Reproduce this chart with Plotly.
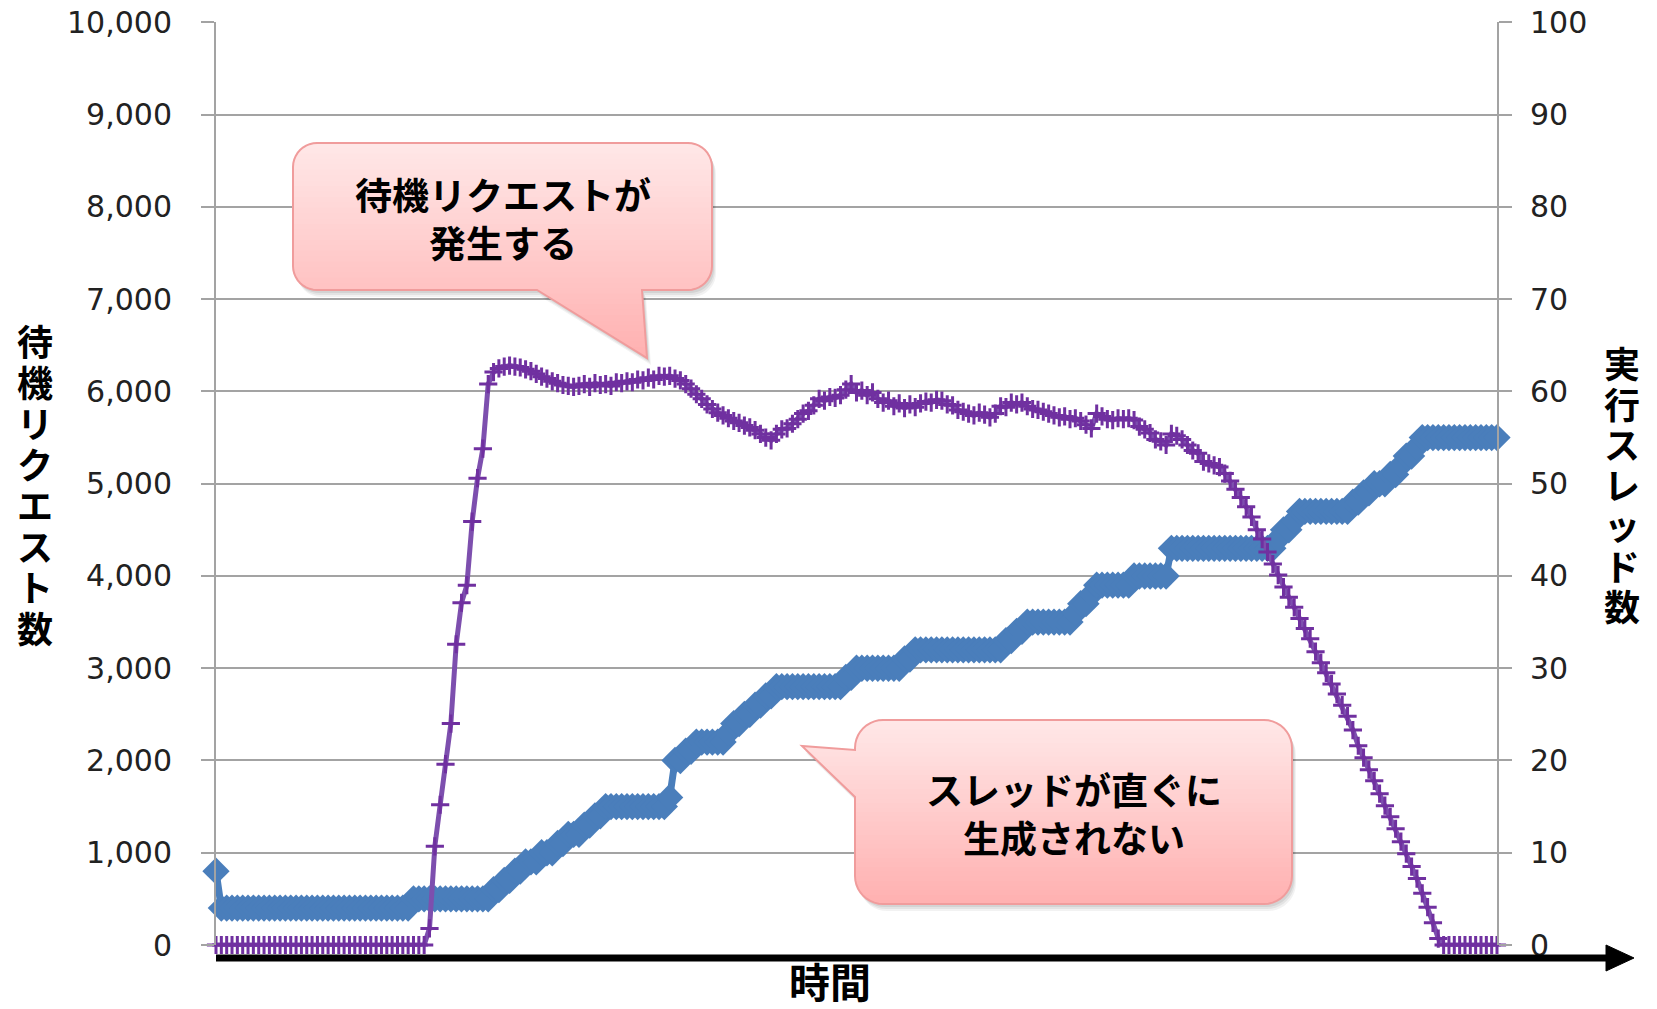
import math
import plotly.graph_objects as go

# ---- data (one point per time step) ----
waiting_requests = [
    0, 0, 0, 0, 0, 0, 0, 0, 0, 0, 0, 0, 0, 0, 0, 0, 0, 0, 0, 0,
    0, 0, 0, 0, 0, 0, 0, 0, 0, 0, 0, 0, 0, 0, 0, 0, 0, 0, 0, 0,
    180, 1070, 1520, 1960, 2400, 3260, 3710, 3900, 4590, 5060, 5380, 6080,
    6210, 6250, 6270, 6280, 6270, 6260, 6240, 6220, 6190, 6160, 6140, 6110, 6090, 6070, 6060, 6050, 6060,
    6080, 6050, 6090, 6070, 6080, 6060, 6100, 6090, 6110, 6100, 6130, 6120, 6150, 6130, 6170, 6160, 6170, 6140, 6120,
    6080, 6030, 5970, 5920, 5860, 5810, 5770, 5740, 5710, 5680, 5660, 5630, 5610, 5580, 5540, 5500, 5470,
    5540, 5590, 5600, 5650, 5700, 5760, 5790, 5850, 5920, 5900, 5940, 5930, 5960, 6020, 6080,
    5990, 6010, 5960, 5990, 5920, 5880, 5900, 5840, 5870, 5820, 5860, 5830, 5870, 5890, 5880, 5910, 5900, 5860, 5850, 5800,
    5780, 5760, 5740, 5770, 5750, 5720, 5760, 5840, 5830, 5880, 5860, 5880, 5840, 5810, 5800, 5780, 5760, 5740, 5720, 5730,
    5700, 5710, 5680, 5640, 5600, 5760, 5730, 5700, 5690, 5710, 5700, 5710, 5690, 5620, 5590, 5550, 5480, 5460, 5420, 5540,
    5520, 5480, 5420, 5360, 5330, 5240, 5220, 5200, 5180, 5110, 5030, 4940, 4850, 4750, 4640, 4500, 4400, 4260, 4130, 4010,
    3880, 3770, 3660, 3540, 3430, 3320, 3180, 3060, 2950, 2830, 2720, 2600, 2480, 2330, 2160, 2030, 1900, 1780, 1640, 1510,
    1390, 1260, 1120, 990, 850, 720, 560, 410, 240, 70,
    0, 0, 0, 0, 0, 0, 0, 0, 0, 0, 0,
]
running_threads = [
    8, 4, 4, 4, 4, 4, 4, 4, 4, 4, 4, 4, 4, 4, 4, 4, 4, 4, 4, 4,
    4, 4, 4, 4, 4, 4, 4, 4, 4, 4, 4, 4, 4, 4, 4, 4, 4,
    5, 5, 5, 5, 5, 5, 5, 5, 5, 5, 5, 5, 5, 5,
    5, 6, 6, 7, 7, 8, 8, 9, 9, 9, 10, 10, 10, 11, 11, 12, 12, 12, 13, 13, 14, 14, 15, 15,
    15, 15, 15, 15, 15, 15, 15, 15, 15, 15,
    16, 20, 20, 21, 21,
    22, 22, 22, 22, 22, 22,
    23, 24, 24, 25, 25, 26, 26, 27, 27,
    28, 28, 28, 28, 28, 28, 28, 28, 28, 28, 28, 28, 28,
    29, 29,
    30, 30, 30, 30, 30, 30, 30, 30, 30,
    31, 31,
    32, 32, 32, 32, 32, 32, 32, 32, 32, 32, 32, 32, 32, 32, 32, 32, 32,
    33, 33, 34, 34,
    35, 35, 35, 35, 35, 35, 35, 35, 35,
    36, 37, 37, 38,
    39, 39, 39, 39, 39, 39, 39,
    40, 40, 40, 40, 40, 40, 40,
    43, 43, 43, 43, 43, 43, 43, 43, 43, 43, 43, 43, 43, 43, 43, 43, 43, 43, 43, 43,
    44, 45, 45, 46,
    47, 47, 47, 47, 47, 47, 47, 47, 47, 47,
    48, 48, 49, 49, 50, 50, 50, 51, 51, 52, 53, 53, 54,
    55, 55, 55, 55, 55, 55, 55, 55, 55, 55, 55, 55, 55, 55, 55,
]
steps = list(range(len(waiting_requests)))

left_ticks = [0, 1000, 2000, 3000, 4000, 5000, 6000, 7000, 8000, 9000, 10000]
right_ticks = [0, 10, 20, 30, 40, 50, 60, 70, 80, 90, 100]

left_title = "待機リクエスト数"
right_title = "実行スレッド数"
x_title = "時間"
callout_texts = ["待機リクエストが<br>発生する", "スレッドが直ぐに<br>生成されない"]

# ---- geometry, in page pixels ----
W, H = 1657, 1009
L, T = 216, 22          # plot area top-left
PW, PH = 1281, 923      # plot area size


def px(x):
    return (x - L) / PW


def py(y):
    return (T + PH - y) / PH


JP = "Noto Sans CJK JP"
GRID = "#a3a3a3"

fig = go.Figure()

fig.add_trace(go.Scatter(
    x=steps, y=running_threads, yaxis="y",
    mode="lines+markers",
    line=dict(color="#4a7ebb", width=7),
    marker=dict(symbol="diamond", size=21, color="#4a7ebb", line=dict(width=0)),
    cliponaxis=False, showlegend=False, name="実行スレッド数",
))
fig.add_trace(go.Scatter(
    x=steps, y=waiting_requests, yaxis="y2",
    mode="lines+markers",
    line=dict(color="#7d4fae", width=5),
    marker=dict(symbol="cross-thin", size=13, line=dict(color="#7030a0", width=3)),
    cliponaxis=False, showlegend=False, name="待機リクエスト数",
))

# ---- callouts (rounded box + tail, vertical gradient, soft shadow) ----
callouts = [
    dict(box=(293, 143, 712, 290), r=24, side="bottom",
         tail=[(642, 290), (647, 358), (537, 290)]),
    dict(box=(855, 720, 1292, 904), r=28, side="left",
         tail=[(855, 797), (802, 746), (855, 750)]),
]


def arc(cx, cy, r, a0, a1, n=10):
    out = []
    for k in range(n + 1):
        a = math.radians(a0 + (a1 - a0) * k / n)
        out.append((cx + r * math.cos(a), cy + r * math.sin(a)))
    return out


def outline(c):
    x0, y0, x1, y1 = c["box"]
    r = c["r"]
    pts = arc(x1 - r, y0 + r, r, -90, 0)
    pts += arc(x1 - r, y1 - r, r, 0, 90)
    if c["side"] == "bottom":
        pts += c["tail"]
    pts += arc(x0 + r, y1 - r, r, 90, 180)
    if c["side"] == "left":
        pts += c["tail"]
    pts += arc(x0 + r, y0 + r, r, 180, 270)
    return pts


def clip(poly, ya, yb):
    def cross(p, q, yc):
        t = (yc - p[1]) / (q[1] - p[1])
        return (p[0] + t * (q[0] - p[0]), yc)

    def cut(pts, keep, yc):
        out = []
        for i in range(len(pts)):
            p, q = pts[i - 1], pts[i]
            if keep(q[1]):
                if not keep(p[1]):
                    out.append(cross(p, q, yc))
                out.append(q)
            elif keep(p[1]):
                out.append(cross(p, q, yc))
        return out

    pts = cut(poly, lambda y: y >= ya, ya)
    if pts:
        pts = cut(pts, lambda y: y <= yb, yb)
    return pts


def to_path(pts, dx=0, dy=0):
    return "M " + " L ".join(f"{px(x + dx):.5f},{py(y + dy):.5f}" for x, y in pts) + " Z"


shapes = []
top_rgb, bot_rgb = (255, 232, 232), (255, 176, 176)
for c in callouts:
    poly = outline(c)
    for dx, dy, a in [(4, 7, 0.05), (3, 5, 0.06), (2, 3, 0.07)]:
        shapes.append(dict(type="path", xref="paper", yref="paper", path=to_path(poly, dx, dy),
                           fillcolor=f"rgba(0,0,0,{a})", line=dict(width=0)))
    ytop = min(p[1] for p in poly)
    ybot = max(p[1] for p in poly)
    n = 40
    for k in range(n):
        ya = ytop + (ybot - ytop) * k / n
        yb = ytop + (ybot - ytop) * (k + 1) / n + 0.8
        band = clip(poly, ya, yb)
        if len(band) < 3:
            continue
        t = (k + 0.5) / n
        col = tuple(round(top_rgb[i] + (bot_rgb[i] - top_rgb[i]) * t) for i in range(3))
        shapes.append(dict(type="path", xref="paper", yref="paper", path=to_path(band),
                           fillcolor=f"rgb{col}", line=dict(width=0)))
    shapes.append(dict(type="path", xref="paper", yref="paper", path=to_path(poly),
                       fillcolor="rgba(0,0,0,0)", line=dict(color="#f09c9c", width=2)))

# time arrow under the plot
shapes.append(dict(type="line", xref="paper", yref="paper",
                   x0=px(216), x1=px(1612), y0=py(958), y1=py(958),
                   line=dict(color="black", width=7)))
shapes.append(dict(type="path", xref="paper", yref="paper",
                   path=to_path([(1606, 945), (1634, 958), (1606, 971)]),
                   fillcolor="black", line=dict(color="black", width=1)))

annotations = []
for c, txt in zip(callouts, callout_texts):
    x0, y0, x1, y1 = c["box"]
    annotations.append(dict(
        xref="paper", yref="paper", x=px((x0 + x1) / 2), y=py((y0 + y1) / 2 + 1),
        xanchor="center", yanchor="middle", showarrow=False, text=txt,
        font=dict(family=JP, size=37, color="black", weight="bold"),
    ))


def stacked(title, glyph_px):
    # one character per line; line pitch follows the base font size
    return "<br>".join(f'<span style="font-size:{glyph_px}px">{ch}</span>' for ch in title)


annotations.append(dict(
    xref="paper", yref="paper", x=px(35), y=py(483),
    xanchor="center", yanchor="middle", showarrow=False, text=stacked(left_title, 36),
    font=dict(family=JP, size=31.5, color="black", weight="bold"),
))
annotations.append(dict(
    xref="paper", yref="paper", x=px(1622), y=py(483),
    xanchor="center", yanchor="middle", showarrow=False, text=stacked(right_title, 36),
    font=dict(family=JP, size=31.2, color="black", weight="bold"),
))
annotations.append(dict(
    xref="paper", yref="paper", x=px(830), y=py(980),
    xanchor="center", yanchor="middle", showarrow=False, text=x_title,
    font=dict(family=JP, size=41, color="black", weight="bold"),
))

tick_font = dict(family="DejaVu Sans", size=30, color="#222222")

fig.update_layout(
    width=W, height=H,
    margin=dict(l=L, r=W - L - PW, t=T, b=H - T - PH, autoexpand=False),
    paper_bgcolor="white", plot_bgcolor="white",
    showlegend=False,
    xaxis=dict(range=[0, len(steps) - 1], showgrid=False, zeroline=False,
               showticklabels=False, showline=False, ticks="", automargin=False),
    yaxis=dict(range=[0, 100.05], side="right", tickvals=right_ticks,
               showgrid=True, gridcolor=GRID, gridwidth=2, zeroline=False,
               showline=True, linecolor=GRID, linewidth=2,
               ticks="outside", ticklen=13, tickwidth=2, tickcolor=GRID,
               ticklabelstandoff=12, ticklabeloverflow="allow",
               tickfont=tick_font, automargin=False),
    yaxis2=dict(range=[0, 10005], side="left", overlaying="y", anchor="x",
                tickvals=left_ticks, tickformat=",d",
                showgrid=False, zeroline=False,
                showline=True, linecolor=GRID, linewidth=2,
                ticks="outside", ticklen=13, tickwidth=2, tickcolor=GRID,
                ticklabelstandoff=23, ticklabeloverflow="allow",
                tickfont=tick_font, automargin=False),
    shapes=shapes,
    annotations=annotations,
)

# drop the browser's default body margin so the figure fills the window
fig.write_html("out.html", config={"displayModeBar": False},
               post_script="document.body.style.margin='0';")
